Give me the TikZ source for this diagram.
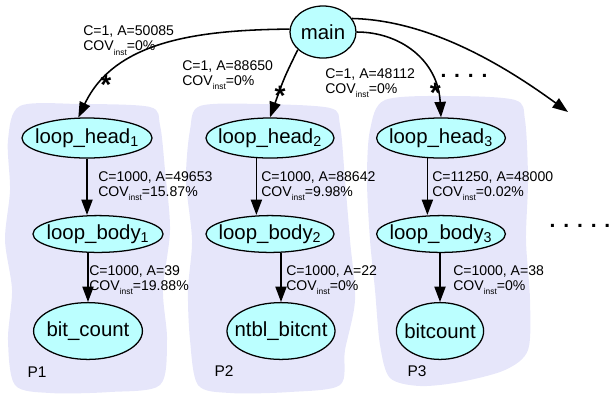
\documentclass[tikz,border=0pt]{standalone}
\usepackage{fontspec}
\setmainfont{Liberation Sans}
\usetikzlibrary{shapes.geometric, arrows.meta}
\definecolor{nodecyan}{RGB}{187,255,255}
\definecolor{clustbg}{RGB}{230,230,250}
\newcommand{\lowsub}[1]{\raisebox{-0.6ex}{\fontsize{6}{6}\selectfont #1}}

\begin{document}
\begin{tikzpicture}
        [x=0.025cm, y=-0.025cm,
        fn/.style={draw, shape=ellipse, fill=nodecyan, line width=0.9pt, inner sep=0},
        every label/.style={font=\fontsize{14.5}{16}\selectfont, inner sep=0},
        el/.style={anchor=west, inner sep=0, align=left, font=\fontsize{10}{10.7}\selectfont},
        pl/.style={inner sep=0, font=\fontsize{11}{12}\selectfont},
        arr/.style={-{Triangle[length=11pt, width=8pt]}, line width=1.1pt},
        astr/.style={inner sep=0, yshift=-4.5pt, font=\fontsize{20}{20}\selectfont\bfseries},
        clust/.style={fill=clustbg}]

        \useasboundingbox (0,0) rectangle (609,397);

        \fill[clust] plot[smooth cycle] coordinates {(20,106) (80,104) (150,107) (160,125) (165,170) (170,230) (163,290) (167,340) (160,385) (110,392) (50,393) (15,385) (8,340) (12,290) (5,240) (10,190) (8,140)};
        \fill[clust] plot[smooth cycle] coordinates {(200,106) (260,104) (330,108) (340,125) (345,180) (350,240) (355,300) (345,350) (340,385) (290,392) (230,393) (198,385) (190,340) (188,290) (192,240) (186,180) (190,130)};
        \fill[clust] plot[smooth cycle] coordinates {(385,100) (450,96) (515,100) (525,120) (528,180) (526,240) (530,300) (528,350) (505,370) (460,382) (420,386) (390,378) (380,345) (375,290) (370,240) (367,180) (370,130)};

        \node[fn, minimum width=1.65cm, minimum height=1.3cm, label=center:{main}] (main) at (323, 32) {};

        \node[fn, minimum width=3.25cm, minimum height=1cm, label=center:{loop\_head\textsubscript{1}}] (h1) at (87, 138) {};
        \node[fn, minimum width=3.25cm, minimum height=0.92cm, label=center:{loop\_body\textsubscript{1}}] (b1) at (98, 234) {};
        \node[fn, minimum width=2.72cm, minimum height=1.42cm, label=center:{bit\_count}] (c1) at (88, 331) {};

        \node[fn, minimum width=3.2cm, minimum height=1cm, label=center:{loop\_head\textsubscript{2}}] (h2) at (270, 138) {};
        \node[fn, minimum width=3.2cm, minimum height=0.92cm, label=center:{loop\_body\textsubscript{2}}] (b2) at (270, 234) {};
        \node[fn, minimum width=2.7cm, minimum height=1.42cm, label=center:{ntbl\_bitcnt}] (c2) at (281, 331) {};

        \node[fn, minimum width=3.22cm, minimum height=1cm, label=center:{loop\_head\textsubscript{3}}] (h3) at (441, 138) {};
        \node[fn, minimum width=3.22cm, minimum height=0.92cm, label=center:{loop\_body\textsubscript{3}}] (b3) at (441, 234) {};
        \node[fn, minimum width=2.18cm, minimum height=1.42cm, label=center:{bitcount}] (c3) at (440, 331) {};

        \node[pl] (p1) at (37, 372) {P1};
        \node[pl] (p2) at (224, 371) {P2};
        \node[pl] (p3) at (417, 371) {P3};

        \coordinate (more) at (568, 112);

        \node[el] (lm1) at (83, 40.5) {C=1, A=50085\\COV\lowsub{inst}=0\%};
        \node[el] (lm2) at (182, 75) {C=1, A=88650\\COV\lowsub{inst}=0\%};
        \node[el] (lm3) at (325, 83) {C=1, A=48112\\COV\lowsub{inst}=0\%};
        \node[el] (lh1) at (98, 186) {C=1000, A=49653\\COV\lowsub{inst}=15.87\%};
        \node[el] (lb1) at (89, 280) {C=1000, A=39\\COV\lowsub{inst}=19.88\%};
        \node[el] (lh2) at (261, 186) {C=1000, A=88642\\COV\lowsub{inst}=9.98\%};
        \node[el] (lb2) at (286, 280) {C=1000, A=22\\COV\lowsub{inst}=0\%};
        \node[el] (lh3) at (432, 186) {C=11250, A=48000\\COV\lowsub{inst}=0.02\%};
        \node[el] (lb3) at (453, 280) {C=1000, A=38\\COV\lowsub{inst}=0\%};

        \node[inner sep=0, font=\fontsize{15}{15}\selectfont\bfseries] (dtop) at (464, 76) {. . . .};
        \node[inner sep=0, font=\fontsize{15}{15}\selectfont\bfseries] (dright) at (580, 226) {. . . . .};

        \draw[arr] (main.175) .. controls (200,30) and (115,40) .. node[astr, pos=.8] {*} (h1.113);
        \draw[arr] (main.215) .. controls (284,78) .. node[astr, pos=.68] {*} (h2.north);
        \draw[arr] (main.east) .. controls (400,32) and (438,60) .. node[astr, pos=.8] {*} (h3.north);
        \draw[arr] (main.25) .. controls (420,20) and (490,55) .. (more);

        \draw[arr] (h1.south) -- (h1.south |- b1.north);
        \draw[arr] (c1 |- b1.south) -- (c1);
        \draw[arr] (h2.236) -- (h2.236 |- b2.north);
        \draw[arr] (c2 |- b2.south) -- (c2);
        \draw[arr] (h3.236) -- (h3.236 |- b3.north);
        \draw[arr] (c3 |- b3.south) -- (c3);
      \end{tikzpicture}
\end{document}
